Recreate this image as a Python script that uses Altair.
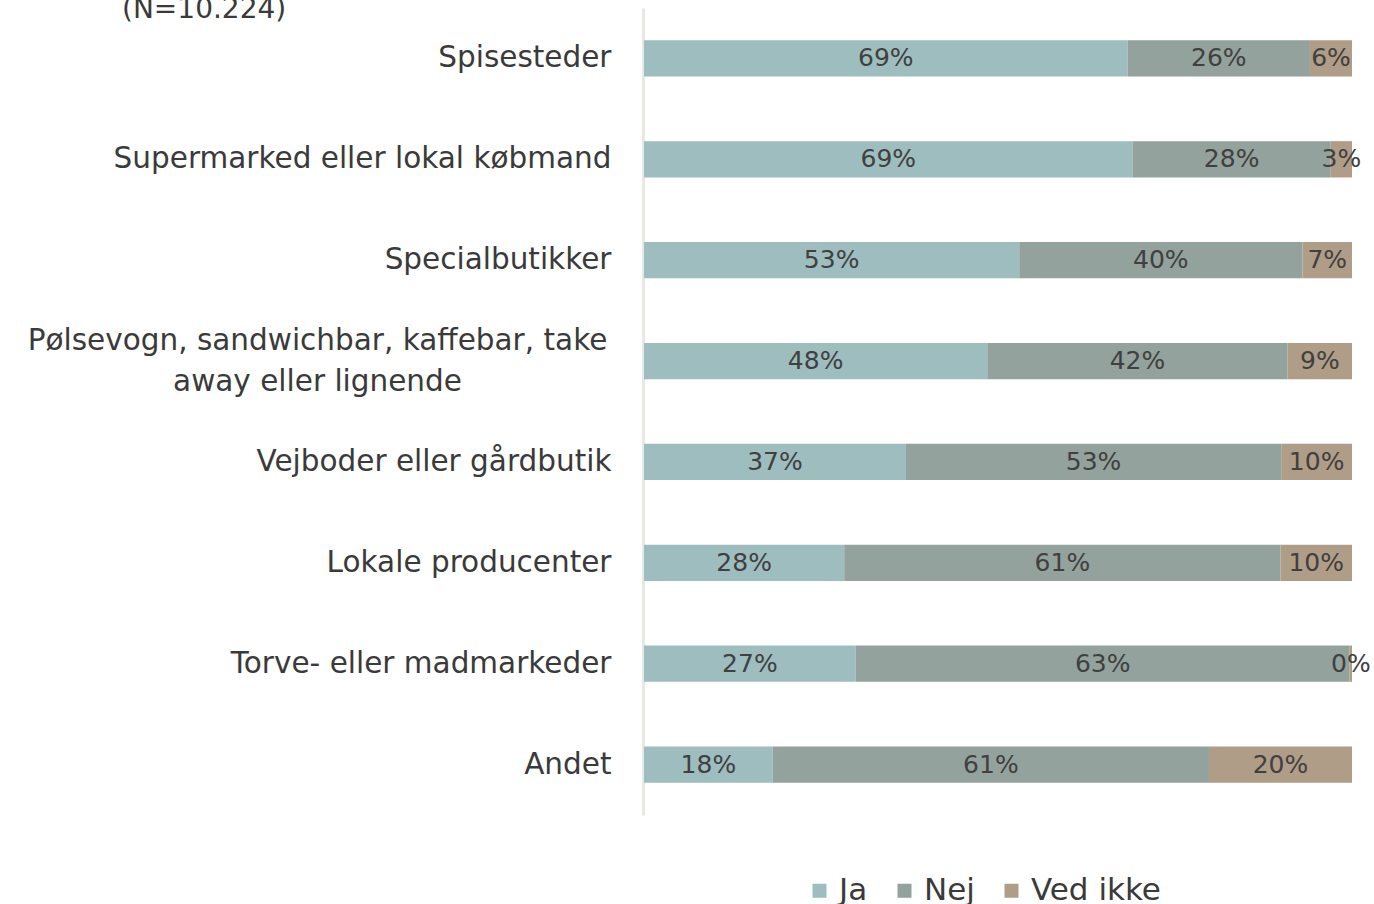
import altair as alt
import pandas as pd

categories = [
    "Spisesteder",
    "Supermarked eller lokal købmand",
    "Specialbutikker",
    "Pølsevogn, sandwichbar, kaffebar, take away eller lignende",
    "Vejboder eller gårdbutik",
    "Lokale producenter",
    "Torve- eller madmarkeder",
    "Andet",
]
series = ["Ja", "Nej", "Ved ikke"]
ja = [69, 69, 53, 48, 37, 28, 27, 18]
nej = [26, 28, 40, 42, 53, 61, 63, 61]
ved_ikke = [6, 3, 7, 9, 10, 10, 0.3, 20]
colors = ["#9EBDBE", "#93A29C", "#B09D87"]
subtitle = "(N=10.224)"

rows = []
for i, c in enumerate(categories):
    for j, (s, vals) in enumerate(zip(series, [ja, nej, ved_ikke])):
        rows.append({"category": c, "series": s, "order": j, "value": vals[i],
                     "label": f"{round(vals[i])}%"})
df = pd.DataFrame(rows)

FONT = "DejaVu Sans"
long_label = categories[3]
is_long = "datum.value == '" + long_label + "'"

base = alt.Chart(df).transform_stack(
    stack="value", groupby=["category"], as_=["x0", "x1"],
    offset="normalize", sort=[alt.SortField("order", order="ascending")]
).transform_calculate(mid="(datum.x0 + datum.x1) / 2")

y_enc = alt.Y(
    "category:N", sort=categories, title=None,
    scale=alt.Scale(paddingInner=0.64, paddingOuter=0.32),
    axis=alt.Axis(
        ticks=False, domain=True, domainColor="#EAE8E2", domainWidth=3,
        labelFont=FONT, labelFontSize=29.5, labelColor="#3A3A3A",
        labelLimit=800, labelLineHeight=41,
        labelExpr=("datum.label == '" + long_label + "' ? "
                   "['Pølsevogn, sandwichbar, kaffebar, take', 'away eller lignende'] : datum.label"),
        labelAlign={"condition": {"test": is_long, "value": "center"}, "value": "right"},
        labelPadding={"condition": {"test": is_long, "value": 326}, "value": 32},
        labelOffset={"condition": {"test": is_long, "value": -20}, "value": 0},
        offset=1,
    ),
)

bars = base.mark_bar().encode(
    y=y_enc,
    x=alt.X("x0:Q", scale=alt.Scale(domain=[0, 1], nice=False), axis=None),
    x2="x1:Q",
    color=alt.Color(
        "series:N", sort=series,
        scale=alt.Scale(domain=series, range=colors),
        legend=alt.Legend(
            title=None, orient="none", direction="horizontal",
            legendX=160, legendY=867,
            symbolType="square", symbolSize=196, symbolStrokeWidth=0,
            labelFont=FONT, labelFontSize=31, labelColor="#3A3A3A",
            labelOffset=4, columnPadding=21,
        ),
    ),
)

text = base.mark_text(font=FONT, fontSize=25, color="#404040", baseline="middle").encode(
    y=alt.Y("category:N", sort=categories),
    x=alt.X("mid:Q"),
    text="label:N",
)

chart = alt.layer(bars, text).properties(
    width=708, height=807,
    padding={"left": 644, "top": 8, "right": 22, "bottom": 89},
    autosize=alt.AutoSizeParams(type="none"),
    title=alt.TitleParams(
        subtitle, anchor="start", frame="group", dx=-522, dy=38, offset=0,
        baseline="alphabetic", font=FONT, fontSize=28, fontWeight="normal", color="#3A3A3A",
    ),
).configure_view(stroke=None)

chart.save("out.html", embed_options={"renderer": "svg", "actions": False})
